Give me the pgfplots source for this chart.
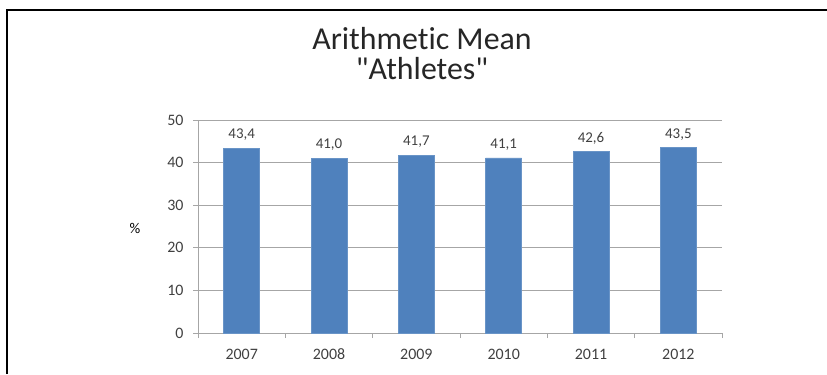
\documentclass[border=0pt]{standalone}
\usepackage{pgfplots}
\pgfplotsset{compat=1.18}
\usepackage{fontspec}
\setmainfont{Carlito}[Ligatures={NoCommon}]
\newfontfamily\titlefont{Carlito}[Ligatures={NoCommon}]
\definecolor{barblue}{HTML}{4F81BD}
\definecolor{gridgray}{HTML}{A6A6A6}
\definecolor{txt}{HTML}{404040}

\begin{document}
\begin{tikzpicture}[x=1bp,y=1bp]
  \useasboundingbox (0,0) rectangle (827,374);
  % frame (only left and top edges visible)
  \draw[line width=2bp] (7,0) -- (7,364) -- (828,364);
  % title
  \node[font=\titlefont\fontsize{32}{34}\selectfont, text=black!85] at (422,335) {Arithmetic Mean};
  \node[font=\titlefont\fontsize{32}{34}\selectfont, text=black!85] at (422,305) {"Athletes"};
  \node[font=\fontsize{15}{17}\selectfont, text=black] at (135,146) {\%};

  \begin{axis}[
      at={(198bp,41bp)}, anchor=south west,
      scale only axis,
      width=524bp, height=213bp,
      ymin=0, ymax=50,
      ytick={0,10,...,50},
      xmin=-0.5, xmax=5.5,
      xtick={0,...,5},
      xticklabels={2007,2008,2009,2010,2011,2012},
      minor xtick={-0.5,0.5,...,5.5},
      major x tick style={draw=none},
      tick align=outside,
      tick style={gridgray, line width=0.8bp},
      major tick length=5bp, minor tick length=5bp,
      xtick pos=bottom, ytick pos=left,
      ymajorgrids,
      grid style={gridgray, line width=0.8bp},
      axis x line*=bottom, axis y line*=left,
      axis line style={gridgray, line width=0.8bp, -},
      /pgf/number format/assume math mode=true,
      tick label style={font=\fontsize{16}{18}\selectfont, text=txt},
      xticklabel style={anchor=base, yshift=-21bp},
      yticklabel style={xshift=-6bp},
      ybar, bar width=36bp,
      nodes near coords,
      point meta=explicit symbolic,
      every node near coord/.append style={font=\fontsize{15}{17}\selectfont, text=txt, yshift=4bp},
    ]
    \addplot[fill=barblue, draw=barblue!85!white] table[meta=lab] {
      x y lab
      0 43.4 43,4
      1 41.0 41,0
      2 41.7 41,7
      3 41.1 41,1
      4 42.6 42,6
      5 43.5 43,5
    };
  \end{axis}
\end{tikzpicture}
\end{document}
